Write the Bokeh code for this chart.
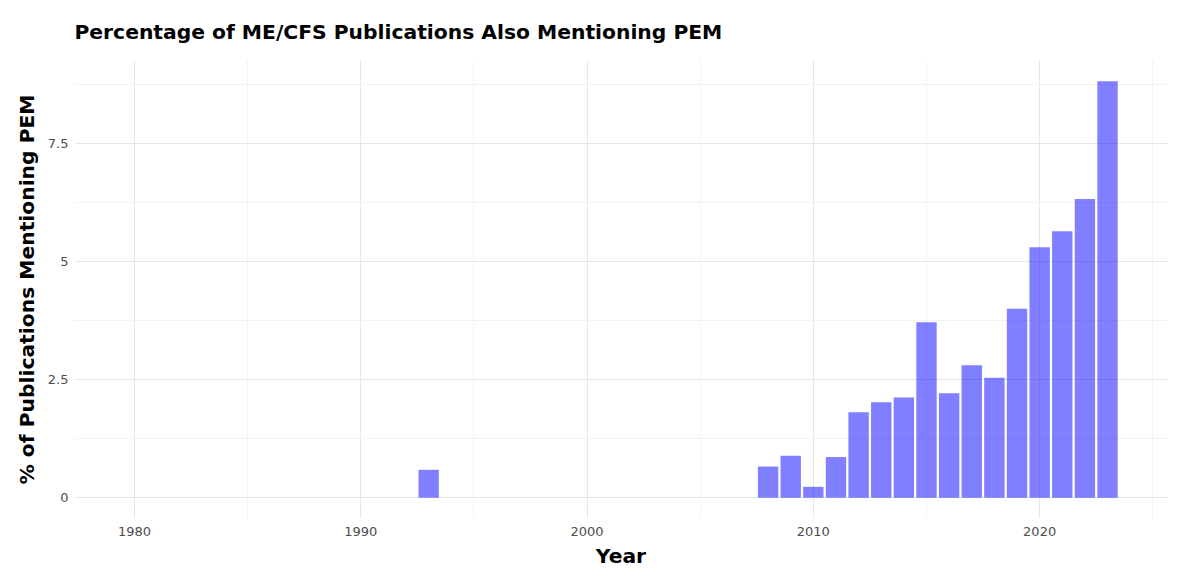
from bokeh.plotting import figure
from bokeh.models import Range1d, FixedTicker
from bokeh.embed import file_html
from bokeh.resources import INLINE

years = list(range(1980, 2024))
pct_values = {1993: 0.59, 2008: 0.66, 2009: 0.89, 2010: 0.23, 2011: 0.86, 2012: 1.81,
              2013: 2.02, 2014: 2.12, 2015: 3.71, 2016: 2.21, 2017: 2.80, 2018: 2.54,
              2019: 4.00, 2020: 5.30, 2021: 5.64, 2022: 6.32, 2023: 8.81}
pct = [pct_values.get(y, 0.0) for y in years]

y_ticks = [0, 2.5, 5, 7.5]
y_tick_labels = ["0", "2.5", "5", "7.5"]
x_ticks = [1980, 1990, 2000, 2010, 2020]
title_text = "Percentage of ME/CFS Publications Also Mentioning PEM"

FONT = "DejaVu Sans"

p = figure(width=1184, height=572, output_backend="svg", toolbar_location=None,
           x_range=Range1d(1977.35, 2025.65), y_range=Range1d(-0.44, 9.25),
           title=title_text,
           min_border_left=74, min_border_right=17, min_border_bottom=54, min_border_top=60)

p.vbar(x=years, top=pct, bottom=0, width=0.9, fill_color="blue", fill_alpha=0.5, line_color=None)

p.title.text_font = FONT
p.title.text_font_size = "20.3px"
p.title.text_font_style = "bold"
p.title.text_color = "black"
p.title.offset = 0
p.title.standoff = 34

p.outline_line_color = None
p.background_fill_color = "white"
p.border_fill_color = "white"

for ax in (p.xaxis[0], p.yaxis[0]):
    ax.axis_line_color = None
    ax.major_tick_line_color = None
    ax.minor_tick_line_color = None
    ax.major_label_text_font = FONT
    ax.major_label_text_font_size = "13px"
    ax.major_label_text_color = "#4d4d4d"
    ax.axis_label_text_font = FONT
    ax.axis_label_text_font_size = "20.3px"
    ax.axis_label_text_font_style = "bold"
    ax.axis_label_text_color = "black"

p.xaxis.major_tick_out = 0
p.xaxis.major_tick_in = 0
p.xaxis.minor_tick_out = 0
p.xaxis.minor_tick_in = 0
p.xaxis.axis_label = "Year"
p.yaxis.axis_label = "% of Publications Mentioning PEM"
p.xaxis.ticker = FixedTicker(ticks=x_ticks, minor_ticks=[1975, 1985, 1995, 2005, 2015, 2025])
p.yaxis.ticker = FixedTicker(ticks=y_ticks, minor_ticks=[1.25, 3.75, 6.25, 8.75])
p.yaxis.major_label_overrides = {t: l for t, l in zip(y_ticks, y_tick_labels)}
p.xaxis.major_label_standoff = 8
p.yaxis.major_label_standoff = 0
p.xaxis.axis_label_standoff = 5
p.yaxis.axis_label_standoff = 6

for g in (p.xgrid[0], p.ygrid[0]):
    g.grid_line_color = "#e6e6e6"
    g.grid_line_width = 1
    g.minor_grid_line_color = "#f3f3f3"
    g.minor_grid_line_width = 1

open("out.html", "w").write(file_html(p, INLINE))
